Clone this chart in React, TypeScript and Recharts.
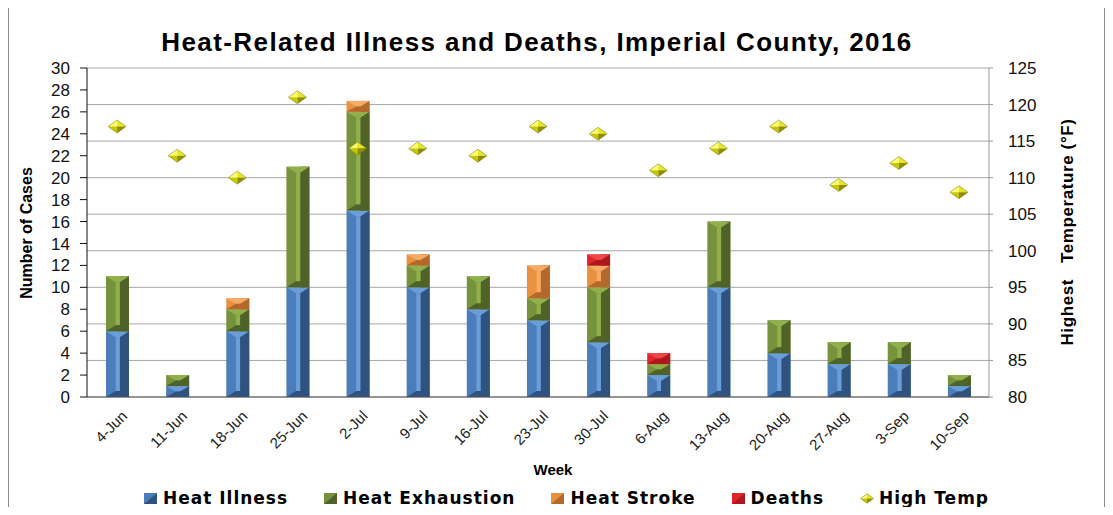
import React from 'react';
import { ComposedChart, Bar, Line, XAxis, YAxis, CartesianGrid } from 'recharts';

// weekly counts, Imperial County 2016
const weeks = ['4-Jun', '11-Jun', '18-Jun', '25-Jun', '2-Jul', '9-Jul', '16-Jul', '23-Jul', '30-Jul', '6-Aug', '13-Aug', '20-Aug', '27-Aug', '3-Sep', '10-Sep'];
const heatIllness = [6, 1, 6, 10, 17, 10, 8, 7, 5, 2, 10, 4, 3, 3, 1];
const heatExhaustion = [5, 1, 2, 11, 9, 2, 3, 2, 5, 1, 6, 3, 2, 2, 1];
const heatStroke = [0, 0, 1, 0, 1, 1, 0, 3, 2, 0, 0, 0, 0, 0, 0];
const deaths = [0, 0, 0, 0, 0, 0, 0, 0, 1, 1, 0, 0, 0, 0, 0];
const highTemp = [117, 113, 110, 121, 114, 114, 113, 117, 116, 111, 114, 117, 109, 112, 108];

const caseTicks = [0, 2, 4, 6, 8, 10, 12, 14, 16, 18, 20, 22, 24, 26, 28, 30];
const tempTicks = [80, 85, 90, 95, 100, 105, 110, 115, 120, 125];

const data = weeks.map((week, i) => ({
  week,
  illness: heatIllness[i],
  exhaustion: heatExhaustion[i],
  stroke: heatStroke[i],
  deaths: deaths[i],
  temp: highTemp[i],
}));

// bevel palettes: light / mid / dark
const PAL = {
  illness: { light: '#6a9ed9', mid: '#4a7dba', dark: '#2f527f' },
  exhaustion: { light: '#8fb04a', mid: '#76923c', dark: '#4f6228' },
  stroke: { light: '#f6ac66', mid: '#e9913f', dark: '#b3692b' },
  deaths: { light: '#f04848', mid: '#e0252b', dark: '#ae171d' },
};

const SERIES = [
  { key: 'illness', name: 'Heat Illness' },
  { key: 'exhaustion', name: 'Heat Exhaustion' },
  { key: 'stroke', name: 'Heat Stroke' },
  { key: 'deaths', name: 'Deaths' },
] as const;

const FONT = 'Arial, "Liberation Sans", sans-serif';

function BevelBar(props: any) {
  const { x, y, width: w, height: h, pal } = props;
  if (!h || h <= 0) return null;
  const d = Math.min(6, h / 2);
  const a = x + w * 0.42;
  const b = x + w * 0.6;
  return (
    <g>
      <rect x={x} y={y} width={w} height={h} fill={pal.mid} />
      <rect x={b} y={y} width={x + w - b} height={h} fill={pal.dark} />
      <rect x={a} y={y + d} width={b - a} height={Math.max(0, h - 2 * d)} fill={pal.light} />
      <polygon points={`${x},${y} ${x + w},${y} ${b},${y + d} ${a},${y + d}`} fill={pal.light} />
      <polygon points={`${x},${y + h} ${x + w},${y + h} ${b},${y + h - d} ${a},${y + h - d}`} fill={pal.dark} />
    </g>
  );
}

function Diamond({ cx, cy, size = 1 }: { cx: number; cy: number; size?: number }) {
  if (cx == null || cy == null) return null;
  const rx = 9 * size;
  const ry = 6.5 * size;
  return (
    <g>
      <polygon points={`${cx - rx},${cy} ${cx},${cy - ry} ${cx},${cy}`} fill="#ffff70" />
      <polygon points={`${cx},${cy - ry} ${cx + rx},${cy} ${cx},${cy}`} fill="#e8e820" />
      <polygon points={`${cx - rx},${cy} ${cx},${cy + ry} ${cx},${cy}`} fill="#c8c800" />
      <polygon points={`${cx + rx},${cy} ${cx},${cy + ry} ${cx},${cy}`} fill="#8e8e00" />
      <polygon
        points={`${cx - rx},${cy} ${cx},${cy - ry} ${cx + rx},${cy} ${cx},${cy + ry}`}
        fill="none"
        stroke="#86861a"
        strokeWidth={0.6}
      />
    </g>
  );
}

function WeekTick({ x, y, payload }: any) {
  return (
    <text
      transform={`translate(${x + 11},${y + 12}) rotate(-45)`}
      textAnchor="end"
      fontFamily={FONT}
      fontSize={15}
      fill="#222"
    >
      {payload.value}
    </text>
  );
}

function LegendSwatch({ pal }: { pal: { light: string; mid: string; dark: string } }) {
  return (
    <svg width={13} height={11} style={{ marginRight: 6 }}>
      <rect x={0} y={0} width={13} height={11} fill={pal.mid} />
      <polygon points="13,0 13,11 0,11" fill={pal.dark} />
    </svg>
  );
}

// rotated axis title, centred on (cx, cy)
function SideTitle({ cx, cy, size, spacing = 0, children }: any) {
  return (
    <div
      style={{
        position: 'absolute',
        left: cx - 200,
        top: cy - 12,
        width: 400,
        height: 24,
        lineHeight: '24px',
        textAlign: 'center',
        transform: 'rotate(-90deg)',
        fontFamily: FONT,
        fontWeight: 'bold',
        fontSize: size,
        letterSpacing: spacing,
        whiteSpace: 'pre',
        color: '#000',
      }}
    >
      {children}
    </div>
  );
}

export default function App() {
  return (
    <div style={{ position: 'relative', width: 1113, height: 515, margin: -8, background: '#fff', overflow: 'hidden' }}>
      <div
        style={{
          position: 'absolute',
          left: 8,
          top: 5,
          width: 1097,
          height: 530,
          border: '1px solid #8a8a8a',
          boxSizing: 'border-box',
        }}
      />
      <div
        style={{
          position: 'absolute',
          left: 0,
          width: 1074,
          top: 27,
          textAlign: 'center',
          fontFamily: FONT,
          fontWeight: 'bold',
          fontSize: 26,
          letterSpacing: 1.4,
          color: '#000',
        }}
      >
        Heat-Related Illness and Deaths, Imperial County, 2016
      </div>

      <div style={{ position: 'absolute', left: 0, top: 0 }}>
        <ComposedChart
          width={1113}
          height={515}
          data={data}
          barSize={23}
          margin={{ top: 68, right: 64, left: 37, bottom: 0 }}
        >
          <CartesianGrid yAxisId="right" vertical={false} stroke="#a8a8a8" strokeWidth={1} />
          <XAxis
            dataKey="week"
            height={118}
            axisLine={{ stroke: '#555' }}
            tickLine={false}
            interval={0}
            tick={<WeekTick />}
          />
          <YAxis
            yAxisId="left"
            width={50}
            domain={[0, 30]}
            ticks={caseTicks}
            interval={0}
            axisLine={{ stroke: '#111' }}
            tickLine={{ stroke: '#111' }}
            tickSize={7}
            tickMargin={10}
            tick={{ fontFamily: FONT, fontSize: 17, fill: '#111' }}
          />
          <YAxis
            yAxisId="right"
            orientation="right"
            width={60}
            domain={[80, 125]}
            ticks={tempTicks}
            interval={0}
            axisLine={{ stroke: '#999' }}
            tickLine={{ stroke: '#999' }}
            tickSize={4}
            tickMargin={15}
            tick={{ fontFamily: FONT, fontSize: 17, fill: '#111' }}
          />
          {SERIES.map((s) => (
            <Bar
              key={s.key}
              yAxisId="left"
              dataKey={s.key}
              name={s.name}
              stackId="cases"
              isAnimationActive={false}
              shape={(p: any) => <BevelBar {...p} pal={PAL[s.key]} />}
            />
          ))}
          <Line
            yAxisId="right"
            dataKey="temp"
            name="High Temp"
            stroke="none"
            isAnimationActive={false}
            dot={(p: any) => <Diamond key={p.index} cx={p.cx} cy={p.cy} />}
            activeDot={false}
          />
        </ComposedChart>
      </div>

      <SideTitle cx={27} cy={233} size={16}>
        Number of Cases
      </SideTitle>
      <SideTitle cx={1068} cy={232} size={17} spacing={0.6}>
        {'Highest   Temperature (°F)'}
      </SideTitle>

      <div
        style={{
          position: 'absolute',
          left: 553,
          top: 461,
          transform: 'translateX(-50%)',
          fontFamily: FONT,
          fontWeight: 'bold',
          fontSize: 15,
          color: '#000',
        }}
      >
        Week
      </div>

      <div
        style={{
          position: 'absolute',
          left: 0,
          width: 1133,
          top: 488,
          display: 'flex',
          justifyContent: 'center',
          alignItems: 'center',
          gap: 36,
          fontFamily: '"DejaVu Sans", sans-serif',
          fontWeight: 'bold',
          fontSize: 17,
          letterSpacing: 1,
          color: '#000',
        }}
      >
        {SERIES.map((s) => (
          <div key={s.key} style={{ display: 'flex', alignItems: 'center' }}>
            <LegendSwatch pal={PAL[s.key]} />
            <span>{s.name}</span>
          </div>
        ))}
        <div style={{ display: 'flex', alignItems: 'center' }}>
          <svg width={14} height={11} style={{ marginRight: 5 }}>
            <Diamond cx={7} cy={5.5} size={0.72} />
          </svg>
          <span>High Temp</span>
        </div>
      </div>
    </div>
  );
}
